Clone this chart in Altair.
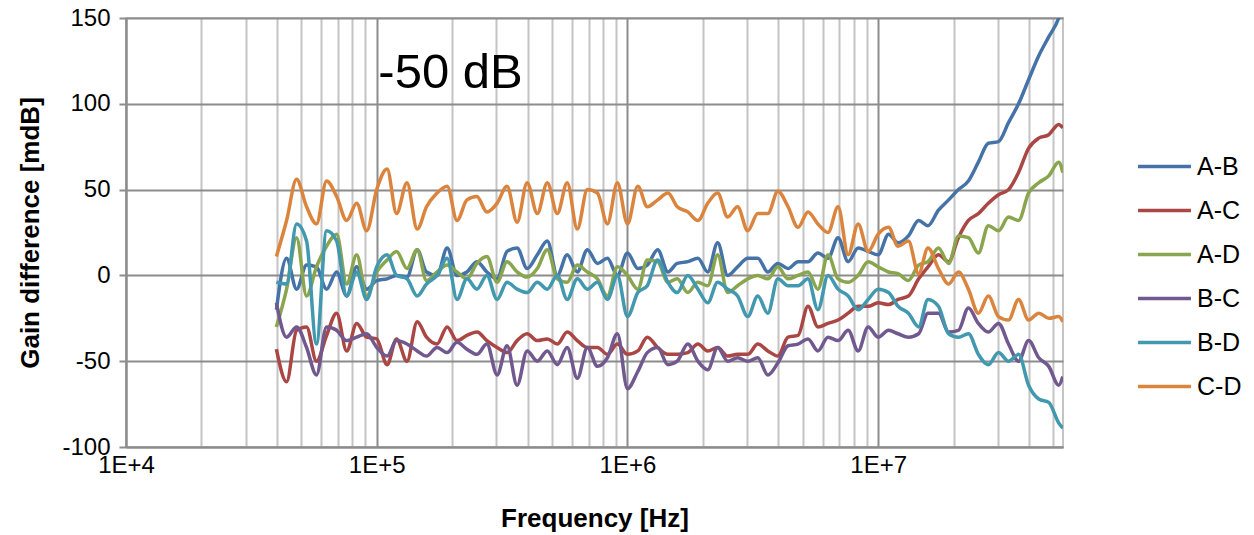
import altair as alt
import pandas as pd

# Sweep frequencies (Hz)
freq_hz = [
    3.98e4, 4.37e4, 4.79e4, 5.25e4, 5.75e4, 6.31e4, 6.92e4, 7.59e4, 8.32e4, 9.12e4,
    1.00e5, 1.10e5, 1.20e5, 1.32e5, 1.45e5, 1.58e5, 1.74e5, 1.91e5, 2.09e5, 2.29e5,
    2.51e5, 2.75e5, 3.02e5, 3.31e5, 3.63e5, 3.98e5, 4.37e5, 4.79e5, 5.25e5, 5.75e5,
    6.31e5, 6.92e5, 7.59e5, 8.32e5, 9.12e5,
    1.00e6, 1.10e6, 1.20e6, 1.32e6, 1.45e6, 1.58e6, 1.74e6, 1.91e6, 2.09e6, 2.29e6,
    2.51e6, 2.75e6, 3.02e6, 3.31e6, 3.63e6, 3.98e6, 4.37e6, 4.79e6, 5.25e6, 5.75e6,
    6.31e6, 6.92e6, 7.59e6, 8.32e6, 9.12e6,
    1.00e7, 1.10e7, 1.20e7, 1.32e7, 1.45e7, 1.58e7, 1.74e7, 1.91e7, 2.09e7, 2.29e7,
    2.51e7, 2.75e7, 3.02e7, 3.31e7, 3.63e7, 3.98e7, 4.37e7, 4.79e7, 5.25e7, 5.45e7,
]

pairs = ["A-B", "A-C", "A-D", "B-C", "B-D", "C-D"]
colors = ["#4572A7", "#AA4643", "#89A54E", "#71588F", "#4198AF", "#DB843D"]

# Gain difference per channel pair (mdB)
gain_ab = [
    -20, 10, -8, 6, 5, -8, 2, -12, 5, -8, -3, -2, 0, -1, 15, 2,
    0, 16, 0, 2, 8, 2, -2, 14, 16, 4, 12, 20, 0, 12, 2, 15,
    7, 10, 0, 13, 4, 6, 15, 2, 7, 8, 10, 2, 19, 0, 5, 10,
    10, 2, 7, 4, 8, 8, 13, 10, 22, 8, 16, 14, 12, 24,
    19, 23, 32, 29, 38, 44, 50, 55, 66, 77, 78, 89, 100, 114, 128, 139, 150, 158,
]
gain_ac = [
    -43, -62, -32, -30, -50, -35, -22, -44, -28, -36, -37, -52, -37, -50, -27, -36,
    -40, -30, -38, -35, -33, -38, -42, -45, -38, -34, -38, -37, -40, -33, -38, -42,
    -42, -46, -40, -46, -44, -36, -42, -46, -46, -45, -40, -44, -42, -47, -46, -46,
    -40, -44, -47, -36, -35, -18, -30, -28, -26, -22, -18, -18, -16, -17,
    -14, -12, -2, 5, 12, 8, 22, 32, 36, 42, 47, 50, 60, 74, 80, 82, 88, 86,
]
gain_ad = [
    -30, -8, 22, -12, 5, 17, 24, -5, 12, -12, 2, 9, 14, 4, 15, -3,
    2, 6, 2, -2, 7, 11, -4, 8, 2, -1, 4, 15, -2, -4, 6, 2,
    -2, -12, 5, 0, -8, 9, 8, -4, -2, -10, -4, -6, 12, -10, -6, -2,
    0, -2, 5, -2, 0, 2, -8, 12, -2, -4, 0, 8, 5, 2,
    1, -3, 6, 8, 16, 7, 23, 22, 13, 29, 26, 34, 32, 48, 54, 58, 66, 60,
]
gain_bc = [
    -16, -36, -30, -42, -58, -30, -32, -38, -36, -34, -42, -47, -38, -40, -44, -47,
    -42, -45, -39, -43, -46, -40, -58, -41, -64, -44, -50, -44, -52, -42, -60, -42,
    -53, -48, -34, -66, -56, -45, -42, -52, -50, -40, -50, -55, -42, -50, -48, -50,
    -48, -58, -51, -41, -40, -37, -44, -36, -38, -32, -44, -30, -36, -32,
    -34, -36, -34, -22, -22, -33, -32, -19, -28, -33, -28, -40, -50, -38, -48, -53, -64, -59,
]
gain_bd = [
    -4, -5, 30, 20, -40, 26, 20, -12, 2, -14, 5, 12, 0, -2, -12, -5,
    0, 10, -14, -2, -8, 0, -14, -4, -8, -10, -4, -8, 0, -14, -2, -8,
    -4, -14, 0, -24, -10, -6, 9, -4, -10, 0, -8, -16, -4, -8, -12, -24,
    -12, -22, -2, -6, -6, -2, -20, 0, -8, -12, -20, -14, -8, -10,
    -18, -22, -30, -14, -18, -34, -36, -34, -46, -52, -45, -50, -46, -64, -72, -74, -86, -89,
]
gain_cd = [
    11, 32, 56, 40, 30, 55, 46, 32, 42, 26, 50, 62, 36, 54, 27, 40,
    48, 52, 32, 44, 46, 37, 42, 52, 31, 54, 36, 54, 36, 54, 27, 50,
    48, 30, 54, 30, 52, 40, 44, 48, 40, 37, 32, 42, 48, 34, 40, 26,
    36, 36, 49, 40, 28, 37, 30, 25, 40, 12, 30, 14, 24, 28,
    17, 20, 1, 16, 4, -5, 2, -8, -22, -12, -24, -26, -14, -26, -22, -25, -24, -27,
]

series = [gain_ab, gain_ac, gain_ad, gain_bc, gain_bd, gain_cd]

rows = []
for name, vals in zip(pairs, series):
    for f, v in zip(freq_hz, vals):
        rows.append({"freq": f, "gain": v, "pair": name})
df = pd.DataFrame(rows)

# Log-axis tick positions (decades plus 2..9 multiples) and y ticks
x_ticks = [m * 10 ** e for e in range(4, 8) for m in range(1, 10) if m * 10 ** e <= 5.46e7]
y_ticks = [-100, -50, 0, 50, 100, 150]

note = pd.DataFrame({"freq": [1.97e5], "gain": [118], "label": ["-50 dB"]})

FONT = "Liberation Sans"
is_decade = "abs(log(datum.value)/LN10 - round(log(datum.value)/LN10)) < 0.001"

x_scale = alt.Scale(type="log", domain=[1e4, 5.46e7], nice=False)
y_scale = alt.Scale(domain=[-100, 150], nice=False)

lines = alt.Chart(df).mark_line(
    strokeWidth=3.5, interpolate="monotone", clip=True
).encode(
    x=alt.X(
        "freq:Q",
        scale=x_scale,
        axis=alt.Axis(
            values=x_ticks,
            labelExpr=f"{is_decade} ? '1E+' + round(log(datum.value)/LN10) : ''",
            labelFont=FONT, labelFontSize=24, labelColor="#000000",
            labelOverlap=False, labelFlush=False, labelPadding=6,
            tickSize=0, domainColor="#8c8c8c", domainWidth=2,
            grid=True, gridWidth=2,
            gridColor={"condition": {"test": is_decade, "value": "#8c8c8c"}, "value": "#c4c4c4"},
            title="Frequency [Hz]", titleFont=FONT, titleFontSize=26,
            titleFontWeight="bold", titleColor="#000000",
            titleY=71, titleBaseline="middle",
        ),
    ),
    y=alt.Y(
        "gain:Q",
        scale=y_scale,
        axis=alt.Axis(
            values=y_ticks,
            labelExpr="datum.value + ''",
            labelFont=FONT, labelFontSize=24, labelColor="#000000", labelPadding=9,
            tickSize=7, tickColor="#8c8c8c", tickWidth=2,
            domainColor="#8c8c8c", domainWidth=2,
            grid=True, gridColor="#8c8c8c", gridWidth=2,
            title="Gain difference [mdB]", titleFont=FONT, titleFontSize=26,
            titleFontWeight="bold", titleColor="#000000",
            titleX=-96, titleBaseline="middle",
        ),
    ),
    color=alt.Color(
        "pair:N",
        scale=alt.Scale(domain=pairs, range=colors),
        legend=alt.Legend(
            title=None, orient="none", legendX=1010, legendY=120,
            symbolType="stroke", symbolSize=2800, symbolStrokeWidth=3.5,
            labelFont=FONT, labelFontSize=25, labelColor="#000000",
            labelOffset=4, rowPadding=2,
        ),
    ),
)

label = alt.Chart(note).mark_text(
    font=FONT, fontSize=49, color="#000000", align="center", baseline="middle"
).encode(
    x=alt.X("freq:Q", scale=x_scale),
    y=alt.Y("gain:Q", scale=y_scale),
    text="label:N",
)

chart = alt.layer(lines, label).properties(
    width=937,
    height=429,
    autosize="none",
    padding={"left": 126, "top": 18, "right": 191, "bottom": 88},
    background="#ffffff",
).configure_view(stroke="#c4c4c4", strokeWidth=2)

chart.save("out.html", embed_options={"renderer": "svg", "actions": False})
